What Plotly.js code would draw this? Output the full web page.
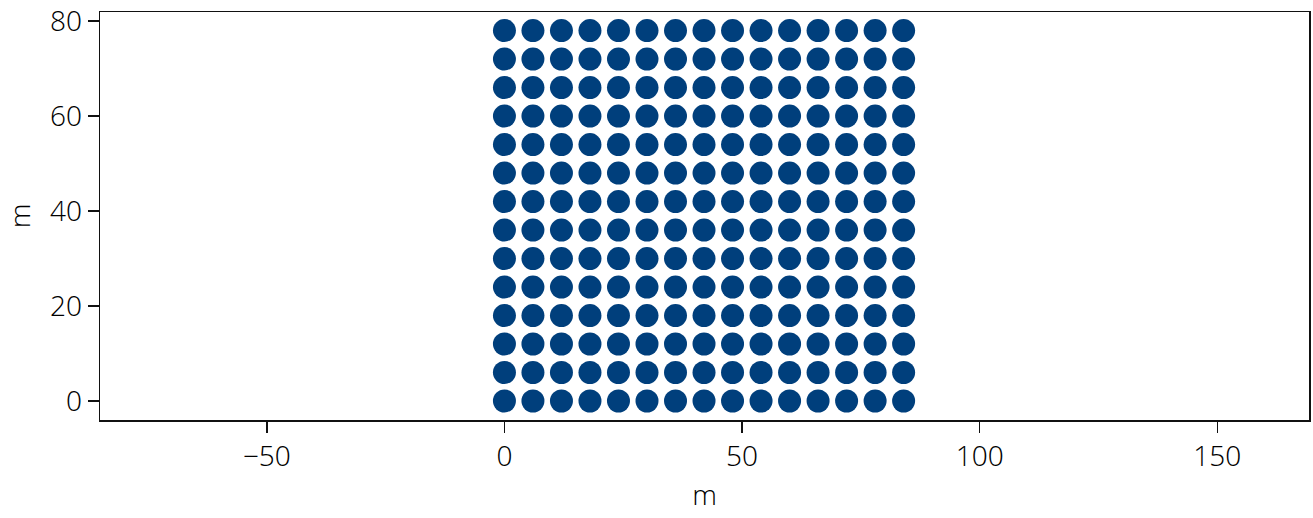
<!DOCTYPE html>
<html>
<head>
<meta charset="utf-8">
<script src="https://cdn.plot.ly/plotly-3.0.1.min.js"></script>
<style>html,body{margin:0;padding:0;background:#fff;}#chart{width:1313px;height:518px;}</style>
</head>
<body>
<div id="chart"></div>
<script>
// Grid positions (m)
const xPositions = [0, 6, 12, 18, 24, 30, 36, 42, 48, 54, 60, 66, 72, 78, 84];
const yPositions = [0, 6, 12, 18, 24, 30, 36, 42, 48, 54, 60, 66, 72, 78];
const xTicks = [-50, 0, 50, 100, 150];
const yTicks = [0, 20, 40, 60, 80];

const xs = [], ys = [];
for (const y of yPositions) for (const x of xPositions) { xs.push(x); ys.push(y); }

const font = {family: "'Open Sans Light', 'Open Sans', sans-serif", size: 28, weight: 300, color: "#000"};

Plotly.newPlot("chart", [{
  type: "scatter", mode: "markers", x: xs, y: ys,
  marker: {size: 23, color: "#003f7c", line: {width: 0}},
  hoverinfo: "skip"
}], {
  width: 1313, height: 518,
  margin: {l: 100, r: 4, t: 12, b: 98},
  paper_bgcolor: "#fff", plot_bgcolor: "#fff",
  showlegend: false,
  font: font,
  xaxis: {
    range: [-85.1, 169.3], tickvals: xTicks, ticktext: xTicks.map(v => v < 0 ? "\u2212" + Math.abs(v) : String(v)),
    showgrid: false, zeroline: false, showline: true, mirror: true, linecolor: "#111", linewidth: 1.5,
    ticks: "outside", ticklen: 11, tickwidth: 1.5, tickcolor: "#111",
    tickfont: font,
    title: {text: "m", font: font, standoff: 12}
  },
  yaxis: {
    range: [-4.0, 81.9], tickvals: yTicks,
    showgrid: false, zeroline: false, showline: true, mirror: true, linecolor: "#111", linewidth: 1.5,
    ticks: "outside", ticklen: 11, tickwidth: 1.5, tickcolor: "#111",
    tickfont: font,
    title: {text: "m", font: font, standoff: 14}
  }
}, {displayModeBar: false, staticPlot: true});
</script>
</body>
</html>
